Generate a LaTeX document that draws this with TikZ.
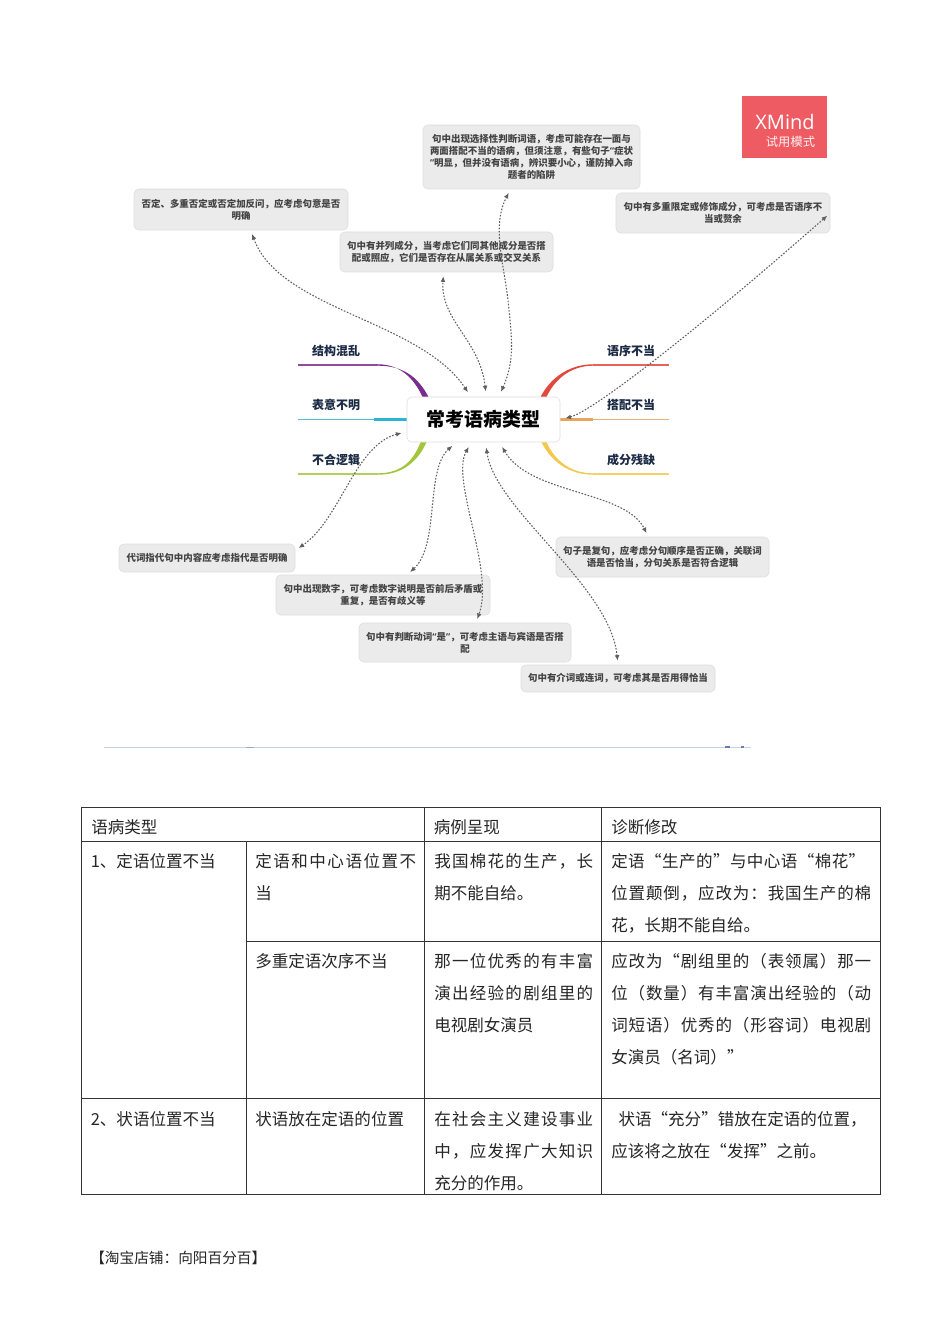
\documentclass[tikz,border=0pt]{standalone}
\usepackage{fontspec}
\setmainfont{Noto Sans CJK SC}
\newfontfamily\logofont{Open Sans}
\usetikzlibrary{arrows.meta}
\makeatletter
\newcommand\Jline[2]{\hbox to #1{\@tempswafalse\@tfor\jc:=#2\do{\if@tempswa\hfill\fi\@tempswatrue\jc}}}
\makeatother
\newcommand\nq[1]{{\logofont #1}}
\definecolor{boxfill}{HTML}{EBEBEB}
\definecolor{boxedge}{HTML}{DEDEDE}
\definecolor{boxtext}{HTML}{444444}
\definecolor{navy}{HTML}{1C2B45}
\definecolor{linkgray}{HTML}{5F5F5F}
\definecolor{logored}{HTML}{EF5B63}
\definecolor{cpurple}{HTML}{7B2D8E}
\definecolor{ccyan}{HTML}{2CB5D2}
\definecolor{cgreen}{HTML}{A3C63C}
\definecolor{cred}{HTML}{E2483D}
\definecolor{corange}{HTML}{E8A35F}
\definecolor{cyellow}{HTML}{F2C94E}
\definecolor{rulecol}{HTML}{C3D4E0}
\tikzset{
  mmbox/.style 2 args={draw=boxedge,fill=boxfill,rounded corners=3.5pt,line width=.4pt,
    minimum width=#1*0.75pt,minimum height=#2*0.75pt,inner sep=0pt,align=center,
    text=boxtext,font=\fontsize{7.1}{9}\selectfont\bfseries},
  branchlabel/.style={inner sep=0pt,text=navy,font=\fontsize{9}{11}\selectfont\bfseries},
  linkline/.style={draw=linkgray,line width=.8pt,dash pattern=on 1.2pt off 1.2pt,
    {Latex[length=4.2pt,width=3.6pt]}-{Latex[length=4.2pt,width=3.6pt]},shorten <=4pt,shorten >=3pt},
  cell/.style={anchor=north west,inner sep=0pt,align=left,text=black!85,
    font=\fontsize{12.4}{24}\selectfont},
  tablerule/.style={draw=black!80,line width=.75pt},
}
\begin{document}
\begin{tikzpicture}[x=0.75pt,y=-0.75pt]
\useasboundingbox (0,0) rectangle (950,1344);
\fill[white] (0,0) rectangle (950,1344);

% branches
\coordinate (t1) at (298,365);
\coordinate (t2) at (298,419.5);
\coordinate (t3) at (298,474);
\coordinate (t4) at (669,365);
\coordinate (t5) at (669,419.5);
\coordinate (t6) at (669,474);
\draw[cpurple!85,line width=1.1pt] (t1) -- (378,365);
\fill[cpurple] (378,364.3) .. controls (400,364.3) and (414,378) .. (423,398) -- (429,398) .. controls (418,376) and (402,365.7) .. (378,365.7) -- cycle;
\draw[ccyan!85,line width=1.1pt] (t2) -- (410,419.5);
\draw[ccyan,line width=1.8pt] (374,419.5) -- (410,419.5);
\draw[cgreen!85,line width=1.1pt] (t3) -- (378,474);
\fill[cgreen] (378,473.3) .. controls (402,473.3) and (414,460) .. (421,441) -- (427,441) .. controls (418,462) and (402,474.7) .. (378,474.7) -- cycle;
\draw[cred!85,line width=1.1pt] (t4) -- (593,365);
\fill[cred] (593,364.3) .. controls (571,364.3) and (551,376) .. (540,398) -- (546,398) .. controls (555,378) and (572,365.7) .. (593,365.7) -- cycle;
\draw[corange!85,line width=1.1pt] (t5) -- (557,419.5);
\draw[corange,line width=1.8pt] (593,419.5) -- (557,419.5);
\draw[cyellow!85,line width=1.1pt] (t6) -- (593,474);
\fill[cyellow] (593,473.3) .. controls (572,473.3) and (555,462) .. (546,441) -- (541,441) .. controls (551,463) and (571,474.7) .. (593,474.7) -- cycle;

\node[branchlabel] (l1) at (336,350.5) {结构混乱};
\node[branchlabel] (l2) at (336,404.5) {表意不明};
\node[branchlabel] (l3) at (336,459.5) {不合逻辑};
\node[branchlabel] (l4) at (631,350.5) {语序不当};
\node[branchlabel] (l5) at (631,404.5) {搭配不当};
\node[branchlabel] (l6) at (631,459.5) {成分残缺};

% central topic
\node[draw=boxedge,fill=white,rounded corners=3.5pt,line width=.4pt,minimum width=153*0.75pt,minimum height=45*0.75pt,inner sep=0pt,text=black,font=\fontsize{14.2}{16}\selectfont\bfseries] (ctr) at (483.5,419.5) {\raisebox{-.7pt}{常考语病类型}};

% topic boxes
\node[mmbox={214}{41}] (b1) at (241,209.5) {否定、多重否定或否定加反问，应考虑句意是否\\明确};
\node[mmbox={213}{40}] (b2) at (446.5,252) {句中有并列成分，当考虑它们同其他成分是否搭\\配或照应，它们是否存在从属关系或交叉关系};
\node[mmbox={217}{64}] (b3) at (531.5,157) {句中出现选择性判断词语，考虑可能存在一面与\\两面搭配不当的语病，但须注意，有些句子\nq{“}症状\\\nq{”}明显，但并没有语病，辨识要小心，谨防掉入命\\题者的陷阱};
\node[mmbox={214}{40}] (b4) at (723,213) {句中有多重限定或修饰成分，可考虑是否语序不\\当或赘余};
\node[mmbox={176}{28}] (b5) at (207,558) {代词指代句中内容应考虑指代是否明确};
\node[mmbox={214}{40}] (b6) at (383,595) {句中出现数字，可考虑数字说明是否前后矛盾或\\重复，是否有歧义等};
\node[mmbox={212}{39}] (b7) at (465,642.5) {句中有判断动词\nq{“}是\nq{”}，可考虑主语与宾语是否搭\\配};
\node[mmbox={194}{27}] (b8) at (618,678.5) {句中有介词或连词，可考虑其是否用得恰当};
\node[mmbox={213}{40}] (b9) at (662.5,557) {句子是复句，应考虑分句顺序是否正确，关联词\\语是否恰当，分句关系是否符合逻辑};

% XMind badge
\node[fill=logored,minimum width=85*0.75pt,minimum height=62*0.75pt,inner sep=0pt] (logo) at (784.5,127) {};
\node[inner sep=0pt,text=white,font=\logofont\fontsize{15}{18}\selectfont] (logoa) at (785,122) {XMind};
\node[inner sep=0pt,text=white!92!logored,font=\fontsize{9.2}{11}\selectfont] (logob) at (790.5,141.5) {试用模式};

% dotted relationships
\draw[linkline] (ctr.119) .. controls (420,320) and (280,310) .. (b1.295);
\draw[linkline] (ctr.83) .. controls (480,340) and (440,320) .. (b2.262);
\draw[linkline] (ctr.56) .. controls (515,360) and (512,340) .. (508,300) .. controls (503,260) and (492,225) .. (b3.237);
\draw[linkline] (ctr.east) .. controls (590,412) and (680,345) .. (b4.east);
\draw[linkline] (ctr.189) .. controls (355,445) and (340,520) .. (b5.5);
\draw[linkline] (ctr.220) .. controls (425,470) and (440,545) .. (b6.40);
\draw[linkline] (ctr.242) .. controls (450,480) and (495,570) .. (b7.61);
\draw[linkline] (ctr.275) .. controls (495,510) and (610,585) .. (b8.north);
\draw[linkline] (ctr.305) .. controls (530,495) and (625,490) .. (b9.125);

% rule under the map
\coordinate (ra) at (104,747);
\coordinate (rb) at (751,747);
\draw[rulecol,line width=.7pt] (ra) -- (rb);
\draw[black!20!rulecol,line width=.7pt] (246,747) -- (254,747);
\draw[blue!30!rulecol!80!black,line width=.8pt] (725,747) -- (730,747);
\draw[blue!30!rulecol!80!black,line width=.8pt] (741,747) -- (744,747);

% table rules
\coordinate (tl) at (81.5,807.5);
\coordinate (tr) at (880.5,807.5);
\coordinate (bl) at (81.5,1194.5);
\coordinate (br) at (880.5,1194.5);
\draw[tablerule] (tl) -- (tr) -- (br) -- (bl) -- cycle;
\draw[tablerule] (81.5,841) -- (880.5,841);
\draw[tablerule] (246,941) -- (880.5,941);
\draw[tablerule] (81.5,1098) -- (880.5,1098);
\draw[tablerule] (246,841) -- (246,1194.5);
\draw[tablerule] (424,807.5) -- (424,1194.5);
\draw[tablerule] (601.5,807.5) -- (601.5,1194.5);

% table text
\node[cell] (h1) at (91,819.5) {语病类型};
\node[cell] (h2) at (433.5,819.5) {病例呈现};
\node[cell] (h3) at (611,819.5) {诊断修改};

\node[cell] (c11) at (90.5,853) {1、定语位置不当};
\node[cell] (c12) at (255,853) {\Jline{120.75pt}{定语和中心语位置不}\\当};
\node[cell] (c13) at (434,853) {\Jline{119.25pt}{我国棉花的生产，长}\\期不能自给。};
\node[cell] (c14) at (611,853) {\Jline{190.5pt}{定语“生产的”与中心语“棉花”}\\\Jline{195pt}{位置颠倒，应改为：我国生产的棉}\\花，长期不能自给。};

\node[cell] (c22) at (255,953) {多重定语次序不当};
\node[cell] (c23) at (434,953) {\Jline{119.25pt}{那一位优秀的有丰富}\\\Jline{119.25pt}{演出经验的剧组里的}\\电视剧女演员};
\node[cell] (c24) at (611,953) {\Jline{195pt}{应改为“剧组里的（表领属）那一}\\\Jline{195pt}{位（数量）有丰富演出经验的（动}\\\Jline{195pt}{词短语）优秀的（形容词）电视剧}\\女演员（名词）”};

\node[cell] (c31) at (90.5,1111) {2、状语位置不当};
\node[cell] (c32) at (255,1111) {状语放在定语的位置};
\node[cell] (c33) at (434,1111) {\Jline{119.25pt}{在社会主义建设事业}\\\Jline{119.25pt}{中，应发挥广大知识}\\充分的作用。};
\node[cell] (c34) at (611,1111) {\hspace*{5.5pt}\Jline{182pt}{状语“充分”错放在定语的位置，}\\应该将之放在“发挥”之前。};

\node[anchor=west,inner sep=0pt,text=black!85,font=\fontsize{11}{13}\selectfont] (foot) at (90,1257.5) {【淘宝店铺：向阳百分百】};
\end{tikzpicture}
\end{document}
